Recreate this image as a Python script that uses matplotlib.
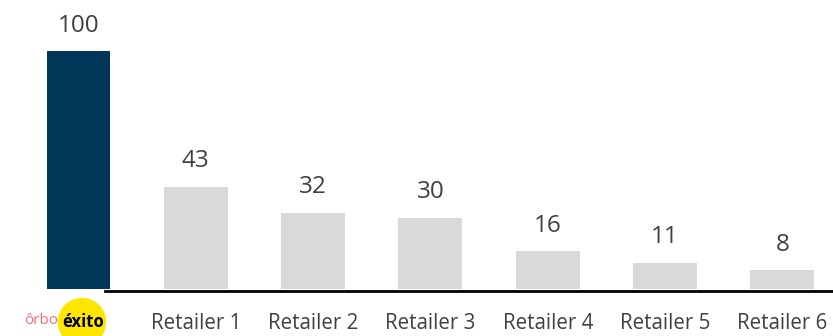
import matplotlib.pyplot as plt
from matplotlib.patches import Ellipse

# datos
categorias = ["éxito", "Retailer 1", "Retailer 2", "Retailer 3", "Retailer 4", "Retailer 5", "Retailer 6"]
valores = [100, 43, 32, 30, 16, 11, 8]
colores = ["#003658", "#d9d9d9", "#d9d9d9", "#d9d9d9", "#d9d9d9", "#d9d9d9", "#d9d9d9"]

plt.rcParams['font.family'] = ['Open Sans', 'DejaVu Sans']

fig = plt.figure(figsize=(8.33, 3.36), dpi=100)
ax = fig.add_axes([0, 0, 1, 1])

x = list(range(len(valores)))
bars = ax.bar(x, valores, width=0.545, color=colores, zorder=2)

for i, v in enumerate(valores):
    ax.text(i, v + 5.6, str(v), ha="center", va="bottom", fontsize=17.5, color="#404040")

ax.set_xlim(-0.669, 6.432)
ax.set_ylim(-19.75, 121.4)
ax.axhline(-0.9, xmin=105 / 833, xmax=1, color="black", lw=2, zorder=3)

for i, c in enumerate(categorias[1:], start=1):
    ax.text(i, -14.6, c, ha="center", va="center", fontsize=14.8, color="#404040")

ax.axis("off")

# logo: orbo + exito
circulo = Ellipse((82 / 833, 1 - 322 / 336), 47 / 833, 47 / 336,
                  transform=fig.transFigure, color="#ffe600", zorder=1)
fig.patches.append(circulo)
fig.text(41 / 833, 1 - 321 / 336, "ôrbo", ha="center", va="center",
         fontsize=11, color="#f2707e")
fig.text(83 / 833, 1 - 322 / 336, "éxito", ha="center", va="center",
         fontsize=12, fontweight="bold", color="black")

fig.savefig("out.png", dpi=100)
